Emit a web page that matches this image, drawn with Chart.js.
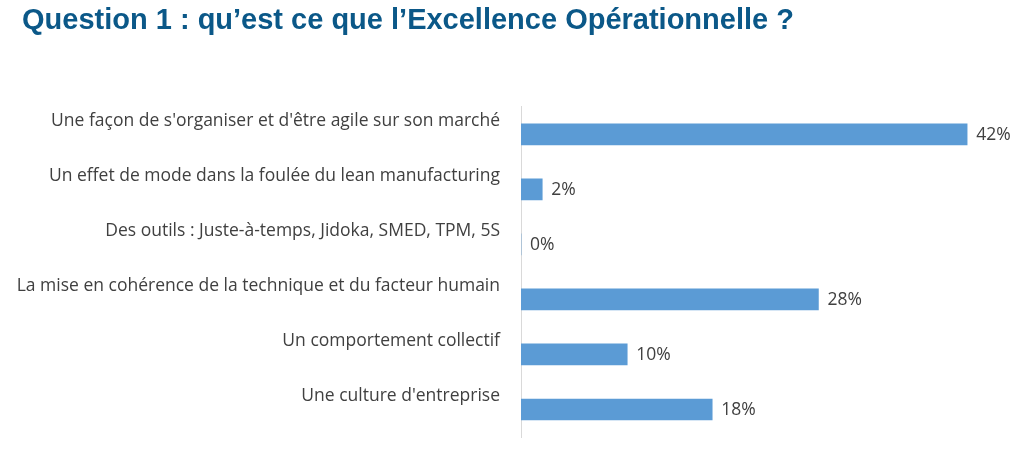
<!DOCTYPE html>
<html>
<head>
<meta charset="utf-8">
<script src="https://cdn.jsdelivr.net/npm/chart.js@4.4.1/dist/chart.umd.min.js"></script>
<style>
html,body{margin:0;padding:0;background:#fff;}
#wrap{width:1024px;height:461px;}
</style>
</head>
<body>
<div id="wrap"><canvas id="c" width="1024" height="461"></canvas></div>
<script>
const categories = [
  "Une façon de s'organiser et d'être agile sur son marché",
  "Un effet de mode dans la foulée du lean manufacturing",
  "Des outils : Juste-à-temps, Jidoka, SMED, TPM, 5S",
  "La mise en cohérence de la technique et du facteur humain",
  "Un comportement collectif",
  "Une culture d'entreprise"
];
const values = [42, 2, 0, 28, 10, 18];
const titleText = "Question 1 : qu’est ce que l’Excellence Opérationnelle ?";

const valueLabels = {
  id: 'valueLabels',
  afterDatasetsDraw(chart) {
    const ctx = chart.ctx;
    const meta = chart.getDatasetMeta(0);
    ctx.save();
    ctx.font = '17.5px "Open Sans"';
    ctx.fillStyle = '#404040';
    ctx.textAlign = 'left';
    ctx.textBaseline = 'middle';
    meta.data.forEach((bar, i) => {
      ctx.fillText(values[i] + '%', bar.x + 9, bar.y + 1);
    });
    ctx.restore();
  }
};

const titleShift = {
  id: 'titleShift',
  afterLayout(chart) {
    const t = chart.titleBlock;
    if (t) { t.left += 12; t.right += 12; }
  }
};

new Chart(document.getElementById('c'), {
  type: 'bar',
  data: {
    labels: categories,
    datasets: [{
      data: values,
      backgroundColor: '#5B9BD5',
      borderWidth: 0,
      barThickness: 21
    }]
  },
  options: {
    indexAxis: 'y',
    responsive: false,
    animation: false,
    layout: { padding: { left: 10, right: 25, top: 0, bottom: 24 } },
    plugins: {
      legend: { display: false },
      tooltip: { enabled: false },
      title: {
        display: true,
        text: titleText,
        align: 'start',
        color: '#0B5888',
        font: { family: '"Liberation Sans", Arial, sans-serif', size: 29, weight: 'bold', lineHeight: 1.2 },
        padding: { top: 4, bottom: 68 }
      }
    },
    scales: {
      x: {
        display: false,
        min: 0,
        max: 45
      },
      y: {
        afterFit(scale) { scale.width = 511; scale.paddingTop = 0; scale.paddingBottom = 0; },
        grid: { display: false, drawTicks: false },
        border: { display: true, color: '#D9D9D9', width: 1 },
        ticks: {
          color: '#404040',
          font: { family: '"Open Sans", sans-serif', size: 17.5 },
          padding: 21,
          labelOffset: -13,
          crossAlign: 'near'
        }
      }
    }
  },
  plugins: [valueLabels, titleShift]
});
</script>
</body>
</html>
